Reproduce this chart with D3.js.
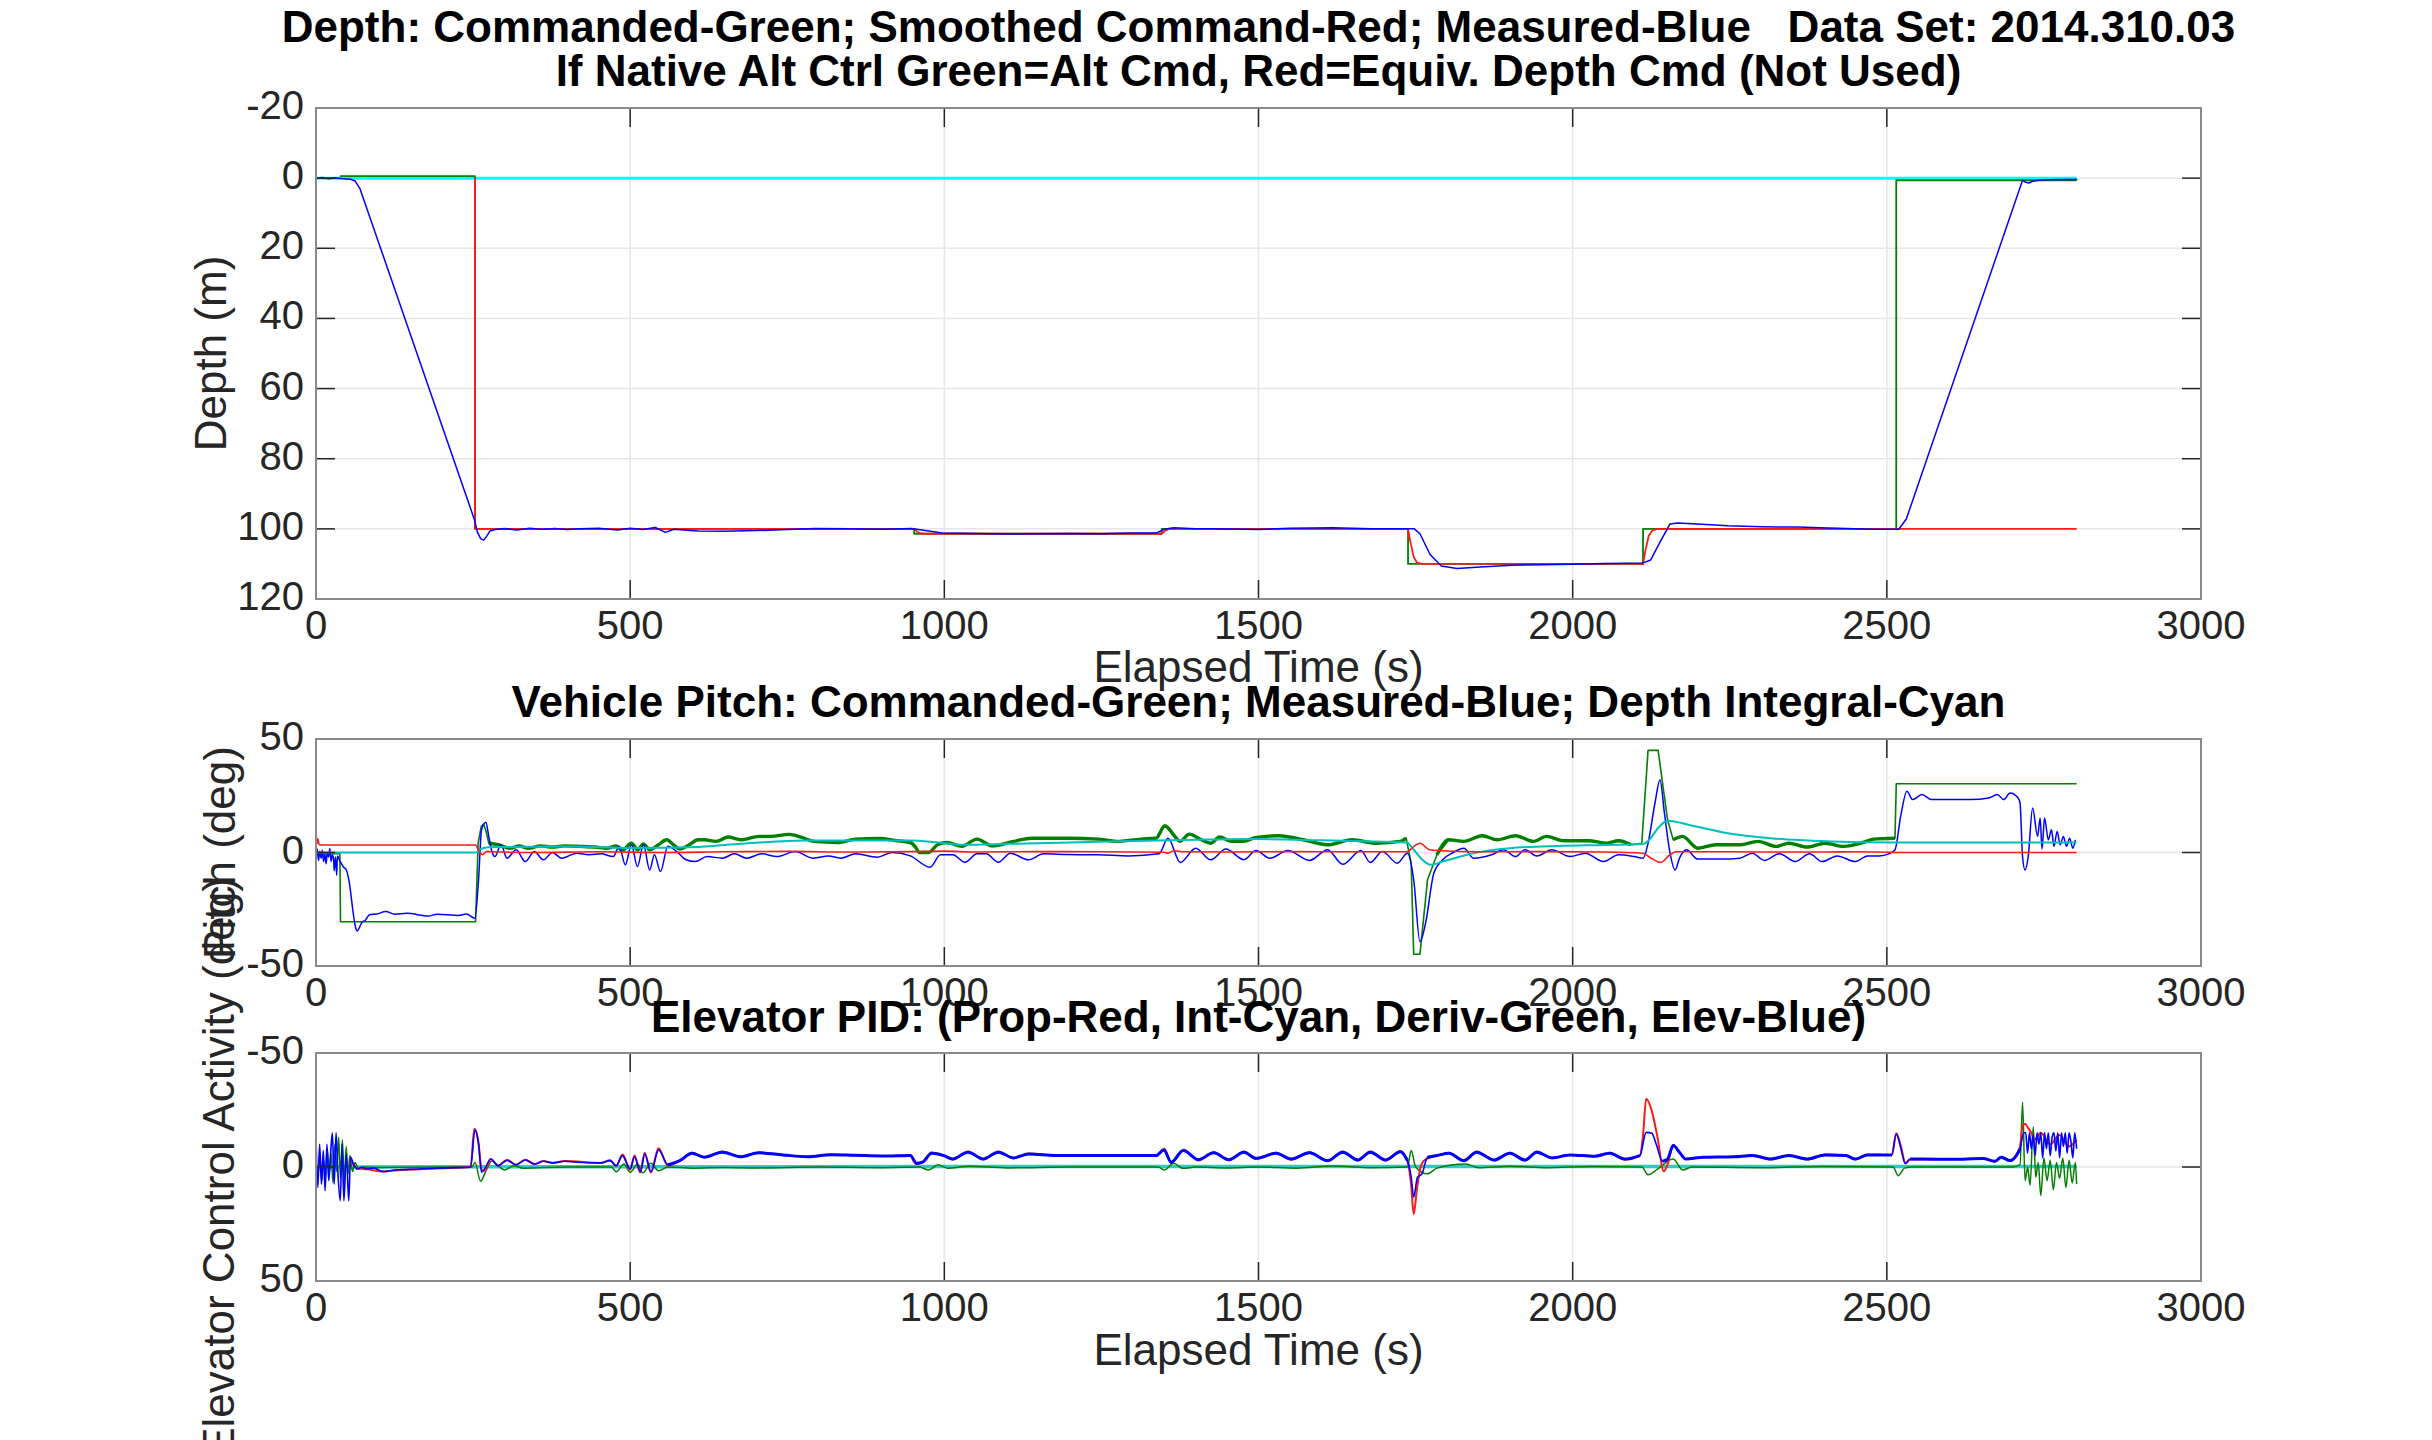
<!DOCTYPE html>
<html>
<head>
<meta charset="utf-8">
<script src="https://cdn.jsdelivr.net/npm/d3@7"></script>
<style>
  body { margin: 0; background: #fff; }
  text { font-family: "Liberation Sans", Arial, Helvetica, sans-serif; }
</style>
</head>
<body>
<div id="chart"></div>
<script>
const W = 2432, H = 1440;
const FONT_TICK = 40, FONT_LABEL = 44;

// ticks
const timeTicks = [0, 500, 1000, 1500, 2000, 2500, 3000];
const depthTicks = [-20, 0, 20, 40, 60, 80, 100, 120];
const pitchTicks = [-50, 0, 50];
const elevTicks = [-50, 0, 50];

// depth panel: [time s, depth m]
const depthCyan = [[0, 0], [2802, 0]];
const depthCmd = [[38, -0.6], [253, -0.6], [253, 100], [952, 100], [952, 101.4], [1346, 101.4], [1346, 100],
  [1738, 100], [1738, 110], [2112, 110], [2112, 100], [2515, 100], [2515, 0.6], [2802, 0.6]];
const depthSmooth = [[253, 0], [253, 100], [952, 100], [957, 100.8], [962, 101.3], [970, 101.4], [1346, 101.4],
  [1351, 100.6], [1358, 100], [1738, 100], [1742, 104], [1747, 108], [1752, 109.6], [1760, 110], [2112, 110],
  [2116, 106], [2121, 102], [2127, 100.4], [2135, 100], [2802, 100]];
const depthMeas = [[0, 0], [10, -0.2], [20, 0.2], [30, -0.1], [40, 0.1], [55, 0.3], [62, 0.8], [70, 3], [252, 97.3],
  [257, 101], [262, 102.8], [267, 103.2], [272, 102], [277, 100.6], [285, 100.2], [300, 99.9], [320, 100.3],
  [340, 99.8], [360, 100.1], [380, 99.9], [400, 100.2], [420, 100], [450, 99.8], [480, 100.3], [500, 99.8],
  [520, 100.2], [540, 99.6], [556, 101], [570, 100.1], [590, 100.4], [608, 100.6], [650, 100.7], [700, 100.5],
  [750, 100.2], [794, 99.9], [850, 100], [900, 100.1], [948, 99.9], [970, 100.5], [997, 101.2], [1050, 101.3],
  [1102, 101.5], [1150, 101.4], [1200, 101.3], [1250, 101.4], [1300, 101.2], [1337, 101.2], [1350, 100.1],
  [1365, 99.7], [1400, 100], [1433, 100], [1500, 100.2], [1550, 99.8], [1618, 99.7], [1680, 100], [1729, 100],
  [1748, 100], [1757, 101.4], [1773, 107.3], [1791, 110.6], [1816, 111.3], [1853, 110.9], [1902, 110.4],
  [1951, 110.2], [2000, 110.1], [2050, 109.9], [2112, 109.7], [2124, 108.9], [2139, 103.8], [2155, 98.6],
  [2167, 98.3], [2198, 98.6], [2247, 99.1], [2300, 99.4], [2358, 99.5], [2420, 99.8], [2480, 100.1],
  [2519, 100.1], [2531, 97.2], [2716, 0.6], [2721, 1.2], [2726, 1.4], [2732, 0.9], [2745, 0.5], [2770, 0.4],
  [2803, 0.4]];

// pitch panel: [time s, deg]
const pitchCmd = [[0, -0.5], [38, -0.5], [39, -30.5], [254, -30.5], [258, 4], [263, 11.5], [267, 12.5], [271, 9],
  [275, 4.1], [290, 3.4], [309, 1.9], [323, 2.9], [338, 1.9], [357, 2.9], [376, 2.4], [396, 2.9], [420, 2.7],
  [444, 2.4], [463, 1.9], [478, 2.9], [487, 0.9], [502, 4.1], [512, 1.2], [521, 3.8], [531, 1.2], [545, 3.4],
  [558, 5.6], [569, 3.4], [579, 1.5], [594, 3.4], [608, 5.6], [618, 5.6], [637, 4.9], [656, 6.8], [676, 5.6],
  [705, 7.1], [724, 7.1], [753, 8.0], [772, 6.8], [792, 4.9], [830, 4.4], [859, 5.9], [898, 6.2], [922, 5.3],
  [946, 4.4], [955, 2], [960, 0], [975, 0], [989, 3.4], [1004, 4.4], [1028, 2.7], [1052, 5.9], [1076, 2.9],
  [1110, 4.9], [1139, 6.3], [1197, 6.3], [1245, 5.9], [1274, 4.9], [1313, 5.9], [1337, 6.3], [1351, 11.8],
  [1366, 7.4], [1375, 4.9], [1390, 8.1], [1409, 5.6], [1424, 4.1], [1438, 6.8], [1457, 4.9], [1477, 4.9],
  [1494, 6.5], [1533, 7.4], [1571, 5.6], [1610, 3.4], [1649, 5.6], [1687, 4.1], [1726, 4.9], [1735, 6.3],
  [1743, -4.7], [1747, -44.8], [1757, -44.8], [1769, -12], [1784, -1], [1803, 5.6], [1827, 4.9], [1856, 7.4],
  [1880, 5.6], [1909, 7.4], [1938, 4.9], [1958, 7.1], [1986, 5.2], [2025, 5.2], [2054, 4.1], [2073, 5.2],
  [2093, 3.4], [2110, 4.1], [2120, 45], [2136, 45], [2151, 14.4], [2160, 5.6], [2175, 7.1], [2199, 1.9],
  [2228, 3.4], [2266, 3.4], [2295, 4.9], [2324, 2.7], [2344, 4.1], [2373, 2.4], [2402, 4.1], [2431, 2.7],
  [2459, 4.1], [2479, 5.9], [2513, 6.3], [2515, 30.3], [2802, 30.3]];
const pitchMeas = [[0, -3], [2, 1.5], [4, -3.5], [6, 0.5], [8, -2.5], [10, 1], [12, -4], [14, -0.5], [16, -5],
  [18, 0], [20, -2], [22, 1.8], [24, -4], [26, -1], [28, -3], [29, -8], [31, -2], [33, -10], [34, -1.5],
  [38.6, -4], [43.4, -6.3], [48.3, -7.7], [51.2, -10.6], [54, -15], [57.9, -23.9], [62.7, -32.7], [65.6, -34.6],
  [72.4, -31.1], [79.2, -29.6], [84.9, -27.4], [96.5, -27.1], [111, -26], [125.5, -27.2], [144.8, -26.8],
  [178.6, -28], [193, -27.2], [226.8, -27.7], [239.4, -27.1], [252.9, -29], [258.7, -12], [263.5, 10],
  [270.3, 13.3], [275, 7], [280, 0.4], [284.7, -1.8], [294.4, 3.4], [304, -2.5], [318.5, 1.2], [333, -4],
  [347.5, 0.4], [362, -3.2], [376.4, 0], [391, -2.5], [415, -0.3], [434.4, -1], [453.7, -0.6], [473, -1.8],
  [482.6, 2.7], [492.3, -5.4], [502, 3.4], [511.6, -6.2], [521.2, 3.4], [531, -7.7], [538.6, -1], [548.3, -8.4],
  [560, 2.7], [574.3, 0.4], [589, -3.2], [603.3, -4], [622.6, -1.8], [646.7, -2.5], [666, -0.6], [685.3, -2.5],
  [709.5, -0.6], [733.6, -1.8], [762.5, 0.4], [791.5, -2.5], [815.6, -1.5], [835, -2.5], [859, -0.6],
  [893, -2.1], [917, 0], [946, -1.5], [977, -6.5], [994, -1], [1013.5, -1], [1033, -4.3], [1052, -0.6],
  [1066.6, -0.6], [1086, -4.3], [1105, -0.3], [1134, -3.2], [1158, -0.6], [1197, -0.9], [1245, -1],
  [1293.4, -1.5], [1341.7, -0.6], [1356, 6.3], [1375.5, -4.4], [1400, 1.9], [1424, -3.2], [1448, 1.5],
  [1477, -3.2], [1496, 0.9], [1518, -2.5], [1547, 0.9], [1581, -3.5], [1610, 1.2], [1634, -5.2], [1663, 0.9],
  [1678, -4.4], [1697, 0.4], [1721, -4.7], [1737, -0.3], [1747, -12], [1757, -39.3], [1766, -31], [1779, -9.1],
  [1793, -3.2], [1808, -0.3], [1827, 1.9], [1842, -2.5], [1871, -1], [1890, 1.2], [1909, -1.8], [1924, 1.2],
  [1943, -1.5], [1967, 1.2], [1996, -1.8], [2020, -0.3], [2049, -4], [2073, -1], [2098, -1.8], [2112, -2.5],
  [2120, 4.1], [2131, 21.8], [2139, 32.1], [2146, 17.4], [2155, -0.3], [2163, -7.7], [2170, -2.5], [2181, 1.2],
  [2199, -2.9], [2237, -2.9], [2266, -2.5], [2286, -0.3], [2305, -3.5], [2329, -0.6], [2354, -4], [2377, -0.6],
  [2397, -4], [2421, -1.5], [2450, -4], [2469, -1.5], [2488, -1.5], [2503, -0.6], [2513, 1.2], [2522, 15.9],
  [2532, 27], [2541, 23.3], [2556, 25.5], [2571, 23.3], [2600, 23.3], [2633, 23.3], [2662, 24], [2676, 25.5],
  [2686, 23.3], [2696, 26.2], [2709, 24], [2712, 21.8], [2716, -1.8], [2720, -7.7], [2725, -1.8], [2732, 19.6],
  [2740, 7.1], [2744, 15.2], [2747, 1.5], [2751, 15.2], [2757, 5.6], [2762, 10], [2766, 2.7], [2771, 9.3],
  [2776, 3.4], [2781, 7.1], [2786, 2.7], [2791, 6.3], [2796, 1.9], [2800, 5.6]];
const pitchInt = [[0, 0], [254, 0], [262, 1.5], [275, 2.3], [300, 2.4], [400, 2.6], [500, 2], [608, 2.4],
  [650, 3.3], [700, 4.3], [777, 5.3], [850, 5.3], [946, 5.3], [990, 4.4], [1030, 3.4], [1100, 3.8], [1200, 4.4],
  [1300, 5.1], [1400, 5.6], [1494, 5.9], [1600, 5.4], [1700, 4.7], [1736, 4.4], [1747, 1.2], [1760, -3],
  [1774, -5.4], [1793, -4], [1842, -0.3], [1900, 1.9], [1977, 2.9], [2050, 3.3], [2112, 3.7], [2122, 5.6],
  [2136, 10.8], [2151, 14], [2189, 11.9], [2247, 8.5], [2315, 6.3], [2411, 4.9], [2508, 4.4], [2802, 4.4]];
const pitchRed = [[0, 8.5], [2, 4], [3, 6], [5, 3.5], [8, 3.3], [254, 3.3], [258, 1.5], [265, -1], [272, 0.5],
  [280, 0.3], [350, 0], [450, 0.3], [550, 0], [650, 0.3], [750, 0.5], [850, 0.2], [950, 0.4], [1000, 0.6],
  [1050, 0.2], [1150, 0.4], [1250, 0.3], [1350, 0.1], [1356, -0.3], [1366, 0.8], [1380, 0.3], [1450, 0.2],
  [1550, 0.4], [1650, 0.3], [1736, 0.3], [1747, 2.6], [1757, 4.1], [1772, 1.2], [1790, 0.8], [1850, 0.3],
  [1950, 0.4], [2050, 0.2], [2112, -0.3], [2125, -2.5], [2140, -4.4], [2155, -1], [2165, 0.3], [2250, 0.3],
  [2350, 0.2], [2450, 0.3], [2508, 0.1], [2513, 0], [2802, 0]];

// elevator panel: [time s, deg]
const elevProp = [[55, -3], [65, 0.5], [82, 1], [106, 2], [125, 1.5], [164, 1], [203, 0.5], [246, 0], [252, -16.8],
  [258, -12], [264, 1.5], [270, 1.5], [278, -3.5], [290, -0.6], [304, -3.1], [318, -1], [333, -3.2], [348, -1.3],
  [362, -2.6], [376, -1.8], [396, -2.6], [454, -1.8], [468, -3], [478, -0.4], [488, -5.5], [500, 1.2], [507, -5],
  [516, 2.4], [523, -6.3], [533, 2.4], [545, -8.2], [560, -0.6], [579, -2.8], [598, -6.3], [618, -4.3],
  [647, -6.8], [676, -4.5], [705, -6.4], [743, -5.3], [782, -4.5], [820, -5.5], [859, -5.1], [907, -4.8],
  [946, -5], [956, -1.3], [965, -2], [980, -6.4], [999, -5], [1013, -3.3], [1038, -6.8], [1062, -3.3],
  [1086, -6.8], [1110, -3.8], [1134, -5.9], [1178, -5], [1236, -5], [1284, -5], [1337, -5], [1350, -8],
  [1361, -1.8], [1381, -7.6], [1404, -3], [1429, -6.5], [1453, -3], [1477, -6.8], [1496, -3.6], [1528, -6.3],
  [1552, -3.2], [1581, -6.5], [1610, -2.5], [1634, -6.8], [1658, -2.8], [1678, -6.8], [1702, -2.8], [1726, -7],
  [1737, -2.5], [1743, 8], [1747, 20.7], [1752, 10], [1758, 0], [1765, -3.2], [1784, -5], [1803, -6.3],
  [1827, -2.5], [1847, -6.8], [1875, -2.8], [1900, -6.3], [1924, -2.8], [1943, -6.8], [1967, -4], [1996, -5.3],
  [2035, -4.7], [2059, -6.3], [2083, -3.2], [2107, -5], [2112, -14], [2117, -29.9], [2126, -24.5], [2135, -13],
  [2145, 1.9], [2152, -2], [2160, -9.8], [2170, -6.2], [2180, -3.5], [2208, -4.3], [2257, -4.5], [2286, -5.2],
  [2315, -3.3], [2344, -5.2], [2373, -3.3], [2402, -5.5], [2435, -5], [2450, -3.3], [2469, -5.5], [2508, -5.3],
  [2515, -14.8], [2522, -9.5], [2530, -1.5], [2537, -3.3], [2604, -3.4], [2653, -3.7], [2672, -2.3], [2682, -4.5],
  [2696, -2.6], [2706, -5.2], [2712, -9], [2716, -18], [2720, -19], [2725, -17], [2730, -15], [2735, -12],
  [2745, -15], [2760, -10], [2775, -14], [2790, -9], [2802, -12]];
const elevInt = [[0, 0], [250, -0.1], [1000, -0.2], [2802, -0.2]];
const elevDeriv = [[0, -2], [3, 4], [6, -5], [9, 6], [12, -3], [15, 5], [18, -8], [21, 3], [24, -6], [27, 7],
  [30, -10], [33, 2], [36, -13], [39, 5], [42, -12], [45, 7], [48, -9], [51, 3], [54, -5], [58, 2], [62, -2],
  [68, 1], [75, 0], [100, 0.2], [200, 0], [248, 0], [253, -2], [262, 6.2], [270, 2], [280, -2.6], [290, -0.5],
  [300, 1.3], [315, -0.5], [330, 0.5], [400, 0], [470, 0], [478, 2.1], [490, -1.3], [500, 2.3], [512, -1.3],
  [520, 2.6], [533, -1.6], [545, 1.6], [560, 0], [600, 0.5], [650, 0.2], [700, 0.4], [800, 0], [900, 0.3],
  [960, 0], [975, 1.3], [990, -1], [1005, 0.5], [1040, -0.3], [1100, 0.4], [1200, 0], [1340, 0], [1350, 1.3],
  [1365, -1.6], [1380, 0.6], [1400, 0], [1450, 0.4], [1500, 0], [1560, 0.5], [1620, -0.4], [1680, 0.3],
  [1737, 0], [1743, -7.2], [1750, 0], [1769, 3], [1784, 0.5], [1830, -1.3], [1850, 0.3], [1900, -0.3],
  [1960, 0.3], [2030, -0.2], [2110, 0], [2120, 3.4], [2135, 0.9], [2160, -3.5], [2175, 1.3], [2190, 0],
  [2300, 0.3], [2400, -0.2], [2510, 0], [2518, 3.8], [2528, 0.5], [2540, 0], [2650, 0], [2700, 0], [2712, -1],
  [2716, -28.4], [2720, 6], [2724, 0], [2728, 8], [2733, -17.7], [2737, 4.5], [2741, -2], [2745, 12.6],
  [2750, -4], [2755, 6], [2760, -3], [2765, 10], [2770, -2], [2775, 5], [2780, -4], [2785, 9], [2790, -3],
  [2795, 7], [2800, -2], [2802, 7.5]];
const elevCmd = [[0, -13], [2.9, 9], [5.8, -10], [8.7, 7.5], [11.6, -7.2], [14.5, 10.4], [17.4, -10], [20.3, 6],
  [23.2, -5.7], [26, -15], [29, 7.5], [31.9, -15], [34.7, 1.6], [38.6, 14.8], [41.5, -10], [44.4, 14.8],
  [48.3, -5.7], [52.1, 14.8], [55, -4.3], [59.8, -1.3], [65.6, 0.9], [72.4, 0.1], [82, 0.9], [91.7, 0.4],
  [106, 2], [125.5, 1.3], [164, 0.9], [202.7, 0.4], [246, 0.1], [253, -16.3], [258.7, -10], [263.5, 2.3],
  [268.3, 0.9], [278, -3.5], [289.6, -0.6], [304, -2.9], [318.5, -1], [333, -3.1], [347.5, -1.3], [362, -2.5],
  [376.4, -1.8], [395.8, -2.5], [415, -2.1], [453.7, -1.8], [468, -2.8], [477.8, -0.6], [487.5, -5.0],
  [500, 0.9], [506.8, -4.5], [516.4, 2.1], [523.2, -5.7], [533, 2.1], [545.4, -7.5], [560, -1], [579, -2.8],
  [598.5, -6], [617.8, -4.3], [646.7, -6.5], [675.7, -4.5], [704.6, -6.2], [743.2, -5.3], [781.9, -4.5],
  [820.5, -5.4], [859, -5.1], [907.3, -4.8], [946, -5], [955.6, -1.6], [965.3, -2.1], [979.7, -6], [999, -5],
  [1013.5, -3.5], [1037.6, -6.5], [1061.8, -3.5], [1086, -6.5], [1110, -4], [1134, -5.7], [1177.6, -5],
  [1235.5, -5], [1283.8, -5], [1337, -5], [1349.4, -7.5], [1361, -2.1], [1380.3, -7.2], [1404.4, -3.2],
  [1428.6, -6.2], [1452.7, -3.2], [1476.8, -6.5], [1496, -3.8], [1528, -6], [1552, -3.5], [1581, -6.2],
  [1610, -2.8], [1634, -6.5], [1658, -3.1], [1678, -6.5], [1702, -3.1], [1726, -6.7], [1737, -2.8], [1743, 4.5],
  [1747, 13.3], [1753, 4.5], [1760, 3.1], [1769, -4.3], [1784, -5], [1803, -6], [1827, -2.8], [1847, -6.5],
  [1875, -3.1], [1900, -6], [1924, -3.1], [1943, -6.5], [1967, -4], [1996, -5.3], [2035, -4.7], [2059, -6],
  [2083, -3.5], [2107, -5], [2117, -15.2], [2126, -14.8], [2133, -10], [2143, -2.5], [2151, -3.5], [2160, -9.4],
  [2170, -6.5], [2180, -3.5], [2208, -4.3], [2257, -4.5], [2286, -5], [2315, -3.5], [2344, -5], [2373, -3.5],
  [2402, -5.3], [2435, -5], [2450, -3.5], [2469, -5.3], [2508, -5.3], [2515, -14.5], [2522, -8.7], [2529, -1.6],
  [2537, -3.5], [2556, -3.5], [2604, -3.4], [2653, -3.7], [2672, -2.5], [2682, -4.3], [2696, -2.8], [2706, -5],
  [2712, -7.9], [2718, -15], [2721, -15], [2724, -6], [2727, -15], [2730, -8], [2733, -14], [2736, -5],
  [2739, -15], [2742, -10], [2745, -15], [2748, -4], [2751, -15], [2754, -8], [2757, -15], [2760, -5],
  [2763, -13], [2766, -15], [2769, -7], [2772, -15], [2775, -4], [2778, -15], [2781, -9], [2784, -15],
  [2787, -6], [2790, -15], [2793, -11], [2796, -4], [2799, -15], [2802, -8]];

const svg = d3.select("#chart").append("svg")
  .attr("width", W)
  .attr("height", H)
  .style("display", "block")
  .style("background", "#fff");

const x = d3.scaleLinear().domain([0, 3000]).range([316, 2201]);
const xMid = (x(0) + x(3000)) / 2;

const yDepth = d3.scaleLinear().domain([-20, 120]).range([108, 599]);
const yPitch = d3.scaleLinear().domain([50, -50]).range([739, 966]);
const yElev = d3.scaleLinear().domain([-50, 50]).range([1053, 1281]);

function grid(y, yTicks) {
  const g = svg.append("g");
  const [top, bottom] = y.range();
  g.selectAll(".vg").data(timeTicks.slice(1, -1)).join("line")
    .attr("x1", d => x(d)).attr("x2", d => x(d))
    .attr("y1", top).attr("y2", bottom)
    .attr("stroke", "#e6e6e6").attr("stroke-width", 1.5);
  g.selectAll(".hg").data(yTicks.filter(d => d !== y.domain()[0] && d !== y.domain()[1])).join("line")
    .attr("x1", x(0)).attr("x2", x(3000))
    .attr("y1", d => y(d)).attr("y2", d => y(d))
    .attr("stroke", "#e6e6e6").attr("stroke-width", 1.5);
}

function frame(y, yTicks) {
  const g = svg.append("g");
  const [top, bottom] = y.range();
  const TL = 19;
  // ticks, pointing inward
  g.selectAll(".tb").data(timeTicks).join("line")
    .attr("x1", d => x(d)).attr("x2", d => x(d))
    .attr("y1", bottom).attr("y2", bottom - TL)
    .attr("stroke", "#262626").attr("stroke-width", 1.5);
  g.selectAll(".tt").data(timeTicks).join("line")
    .attr("x1", d => x(d)).attr("x2", d => x(d))
    .attr("y1", top).attr("y2", top + TL)
    .attr("stroke", "#262626").attr("stroke-width", 1.5);
  g.selectAll(".tl").data(yTicks).join("line")
    .attr("x1", x(0)).attr("x2", x(0) + TL)
    .attr("y1", d => y(d)).attr("y2", d => y(d))
    .attr("stroke", "#262626").attr("stroke-width", 1.5);
  g.selectAll(".tr").data(yTicks).join("line")
    .attr("x1", x(3000)).attr("x2", x(3000) - TL)
    .attr("y1", d => y(d)).attr("y2", d => y(d))
    .attr("stroke", "#262626").attr("stroke-width", 1.5);
  g.append("rect")
    .attr("x", x(0)).attr("y", top)
    .attr("width", x(3000) - x(0)).attr("height", bottom - top)
    .attr("fill", "none").attr("stroke", "#8a8a8a").attr("stroke-width", 2);
  // tick labels
  g.selectAll(".xl").data(timeTicks).join("text")
    .attr("x", d => x(d)).attr("y", bottom + 40)
    .attr("text-anchor", "middle")
    .attr("fill", "#262626").style("font-size", FONT_TICK + "px")
    .text(d => String(d));
  g.selectAll(".yl").data(yTicks).join("text")
    .attr("x", x(0) - 12).attr("y", d => y(d) + 11)
    .attr("text-anchor", "end")
    .attr("fill", "#262626").style("font-size", FONT_TICK + "px")
    .text(d => String(d));
}

// smooth = monotone curve through the read points (no extra data points)
function plot(y, data, color, width, opts = {}) {
  const ln = d3.line().x(d => x(d[0])).y(d => y(d[1]));
  if (opts.smooth) ln.curve(d3.curveMonotoneX);
  if (opts.defined) ln.defined(opts.defined);
  svg.append("path")
    .datum(data)
    .attr("d", ln)
    .attr("fill", "none")
    .attr("stroke", color)
    .attr("stroke-width", width)
    .attr("stroke-linejoin", "round");
}

function title(txt, yPos) {
  svg.append("text")
    .attr("x", xMid).attr("y", yPos)
    .attr("text-anchor", "middle")
    .style("font-size", FONT_LABEL + "px")
    .style("font-weight", "bold")
    .style("white-space", "pre")
    .attr("fill", "#000")
    .text(txt);
}

function xLabel(yPos) {
  svg.append("text")
    .attr("x", xMid).attr("y", yPos)
    .attr("text-anchor", "middle")
    .attr("fill", "#262626")
    .style("font-size", FONT_LABEL + "px")
    .text("Elapsed Time (s)");
}

function yLabel(txt, xPos, yPos) {
  svg.append("text")
    .attr("transform", `translate(${xPos},${yPos}) rotate(-90)`)
    .attr("text-anchor", "middle")
    .attr("fill", "#262626")
    .style("font-size", FONT_LABEL + "px")
    .text(txt);
}

// ---- depth
grid(yDepth, depthTicks);
plot(yDepth, depthCyan, "#00ffff", 3);
plot(yDepth, depthCmd, "#008000", 1.8);
plot(yDepth, depthSmooth, "#ff1a1a", 1.8);
plot(yDepth, depthMeas, "#0000ff", 1.5);
frame(yDepth, depthTicks);

// ---- pitch
grid(yPitch, pitchTicks);
plot(yPitch, pitchCmd, "#008000", 1.6);
plot(yPitch, pitchCmd, "#008000", 3.4, {
  smooth: true,
  defined: d => d[0] >= 272 && d[0] <= 2513 && !(d[0] > 1738 && d[0] < 1775) && !(d[0] > 2108 && d[0] < 2158)
});
plot(yPitch, pitchMeas, "#0000ff", 1.5, { smooth: true });
plot(yPitch, pitchInt, "#00bfbf", 2, { smooth: true });
plot(yPitch, pitchRed, "#ff1a1a", 1.6, { smooth: true });
frame(yPitch, pitchTicks);

// ---- elevator
grid(yElev, elevTicks);
plot(yElev, elevInt, "#33c9c4", 3.5);
plot(yElev, elevDeriv, "#008000", 1.5, { smooth: true });
plot(yElev, elevProp, "#ff1a1a", 2, { smooth: true });
plot(yElev, elevCmd, "#0000ff", 1.6, { smooth: true });
plot(yElev, elevCmd, "#0000ff", 3, {
  smooth: true,
  defined: d => d[0] >= 560 && d[0] <= 2712 && !(d[0] > 1738 && d[0] < 1762) && !(d[0] > 2110 && d[0] < 2140) && !(d[0] > 2510 && d[0] < 2532)
});
frame(yElev, elevTicks);

// ---- text
title("Depth: Commanded-Green; Smoothed Command-Red; Measured-Blue   Data Set: 2014.310.03", 42);
title("If Native Alt Ctrl Green=Alt Cmd, Red=Equiv. Depth Cmd (Not Used)", 86);
title("Vehicle Pitch: Commanded-Green; Measured-Blue; Depth Integral-Cyan", 717);
title("Elevator PID: (Prop-Red, Int-Cyan, Deriv-Green, Elev-Blue)", 1032);
xLabel(682);
xLabel(1365);
yLabel("Depth (m)", 226, (yDepth.range()[0] + yDepth.range()[1]) / 2);
yLabel("Pitch (deg)", 235, (yPitch.range()[0] + yPitch.range()[1]) / 2);
yLabel("Elevator Control Activity (deg)", 234, (yElev.range()[0] + yElev.range()[1]) / 2);
</script>
</body>
</html>
